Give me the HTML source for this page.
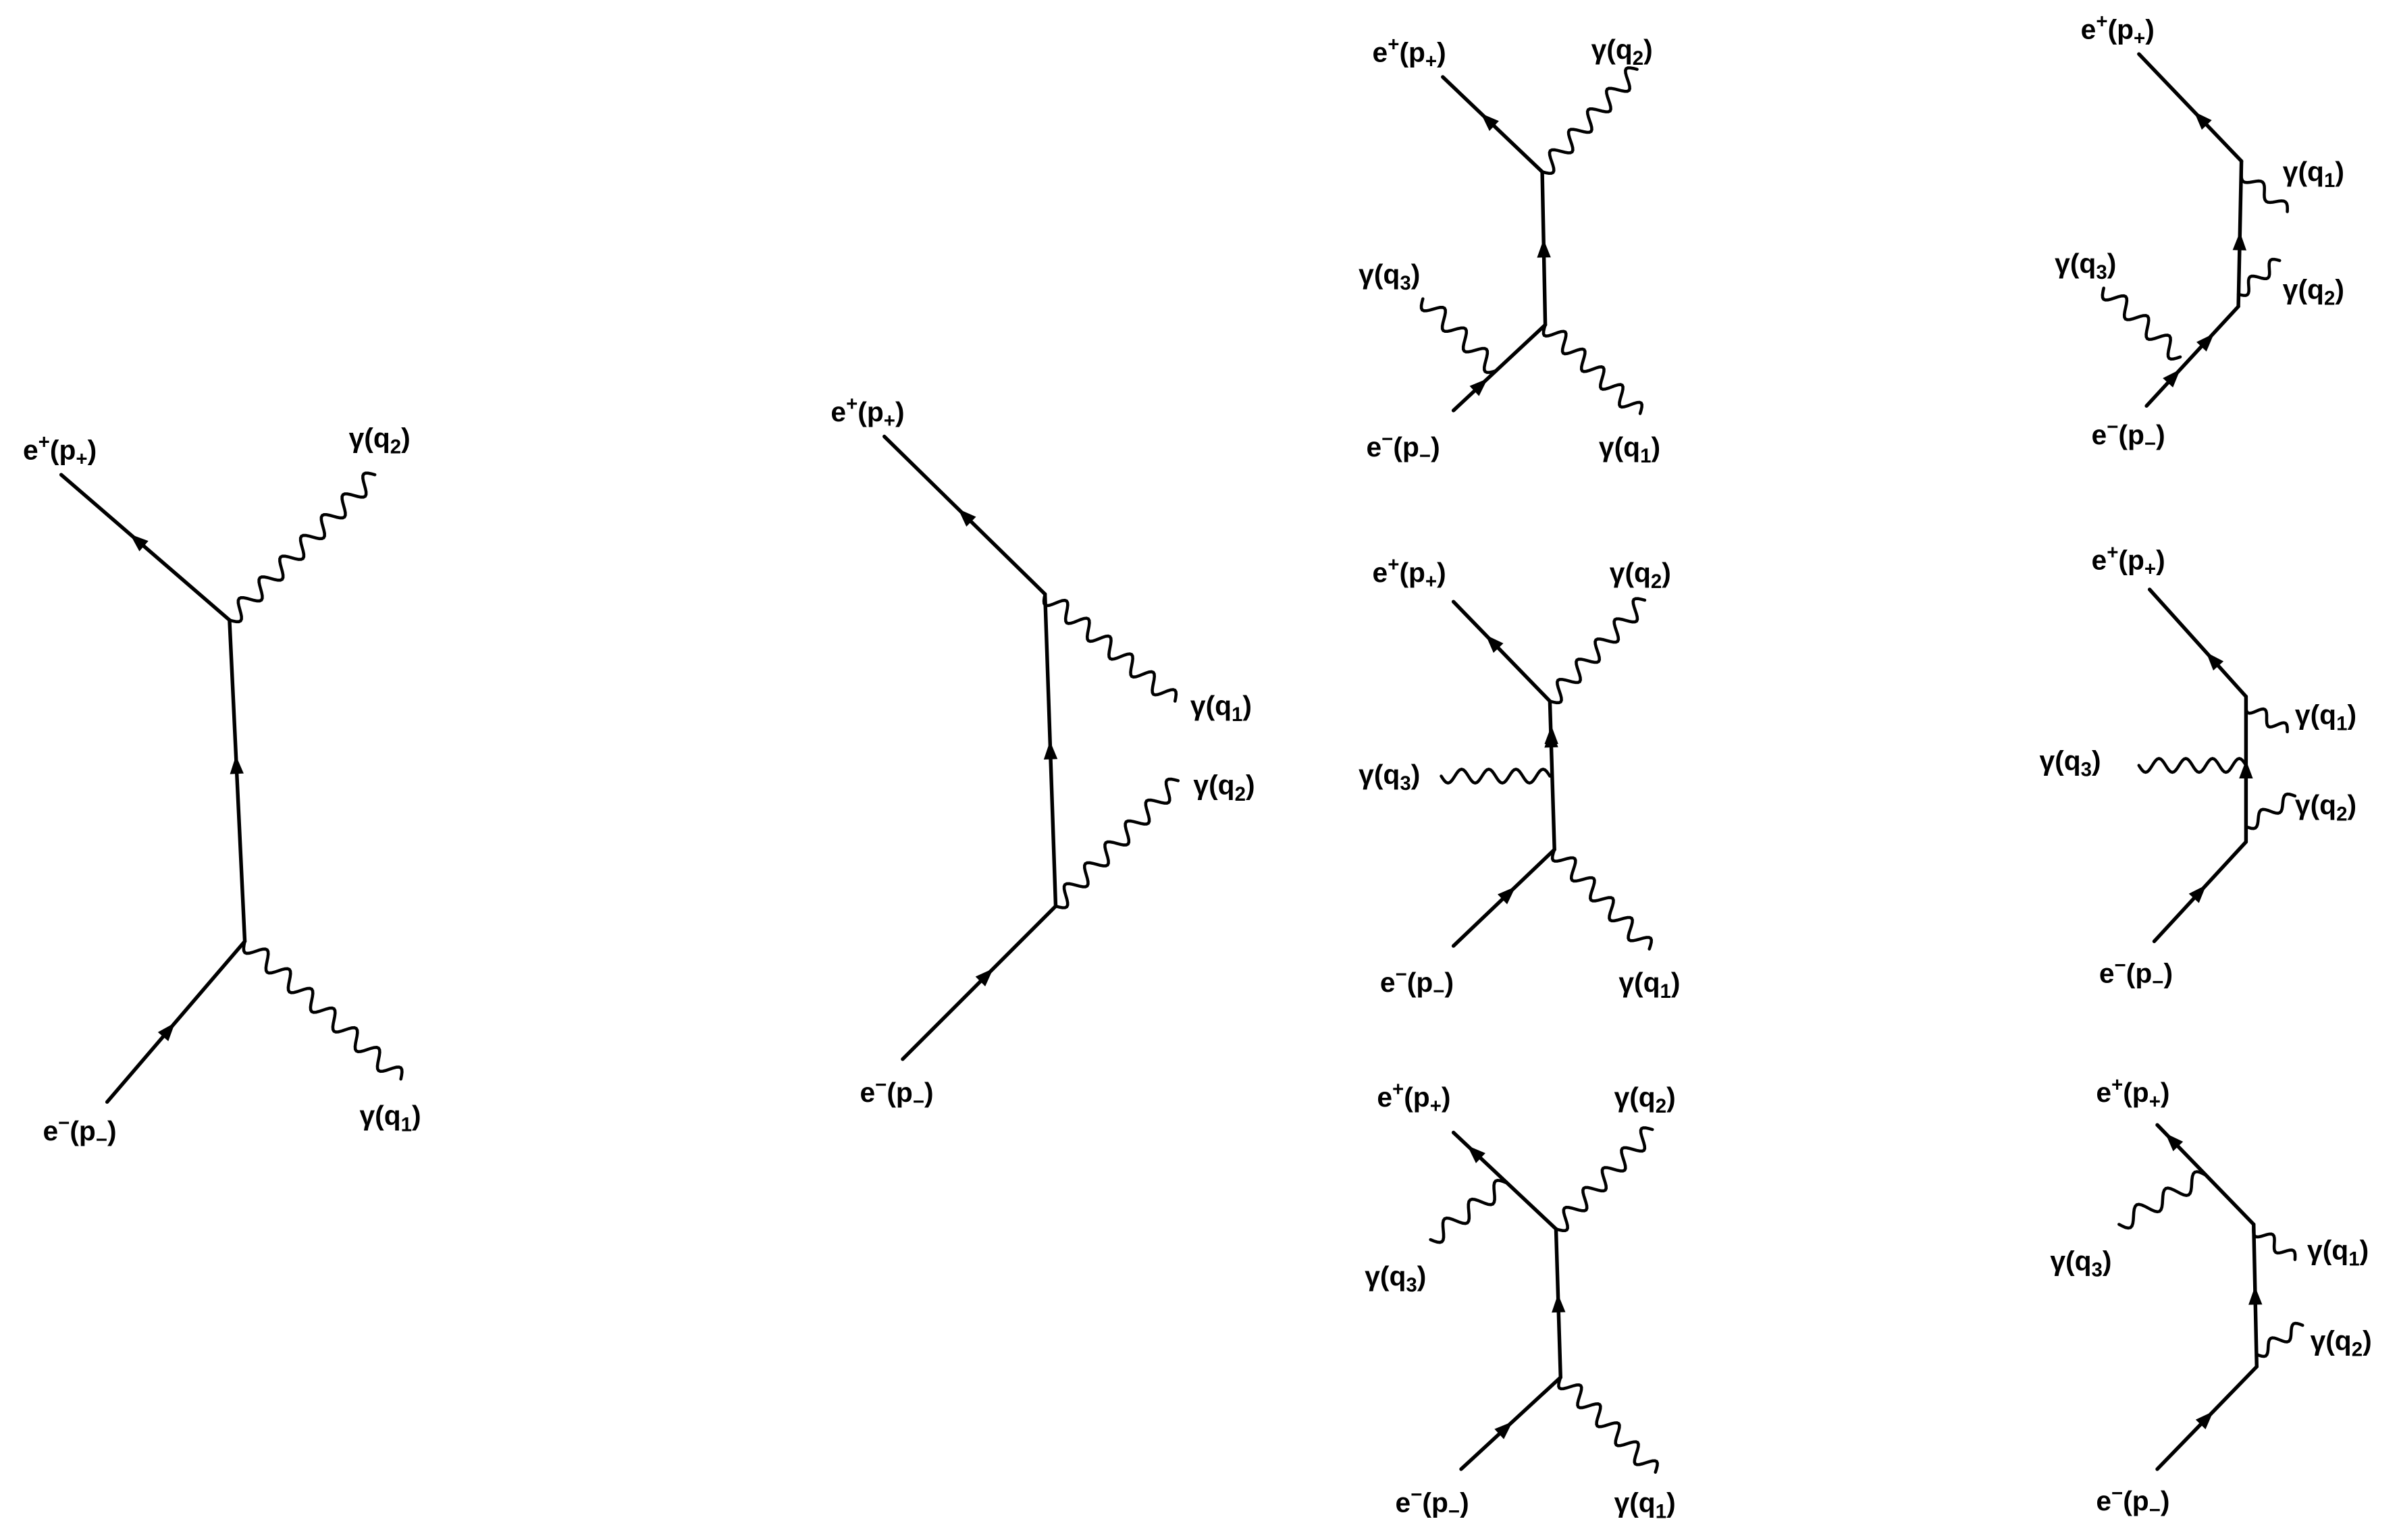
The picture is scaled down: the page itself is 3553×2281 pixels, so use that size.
<!DOCTYPE html>
<html><head><meta charset="utf-8">
<style>
html,body{margin:0;padding:0;background:#fff;}
svg{display:block;}
text{font-family:"Liberation Sans",sans-serif;font-weight:bold;font-size:18px;fill:#000;}
</style></head>
<body>
<svg id="s" width="3553" height="2281" viewBox="0 0 1568 1006" xmlns="http://www.w3.org/2000/svg">
<rect width="1568" height="1006" fill="#fff"/>
<g id="g" stroke="#000" stroke-width="2.4" fill="none" stroke-linecap="round"></g>
<g id="t"></g>
</svg>
<script>
const g=document.getElementById('g'), t=document.getElementById('t');
const NS='http://www.w3.org/2000/svg';
function el(p,tag,a){const e=document.createElementNS(NS,tag);for(const k in a)e.setAttribute(k,a[k]);p.appendChild(e);return e;}
function line(x1,y1,x2,y2){el(g,'line',{x1,y1,x2,y2});}
function arrow(x,y,dx,dy){const L=Math.hypot(dx,dy);dx/=L;dy/=L;const s=12,w=4.5;
 const px=-dy,py=dx;
 el(g,'polygon',{points:`${x+dx*s/2},${y+dy*s/2} ${x-dx*s/2+px*w},${y-dy*s/2+py*w} ${x-dx*s/2-px*w},${y-dy*s/2-py*w}`,fill:'#000',stroke:'none'});}
function fer(x1,y1,x2,y2,f){line(x1,y1,x2,y2);arrow(x1+(x2-x1)*f,y1+(y2-y1)*f,x2-x1,y2-y1);}
function wave(x1,y1,x2,y2,n,amp){amp=amp||5.5;const dx=x2-x1,dy=y2-y1,L=Math.hypot(dx,dy);
 const ux=dx/L,uy=dy/L,px=-uy,py=ux;let d=`M${x1},${y1}`;const N=n*16;
 for(let i=1;i<=N;i++){const s=i/N;const o=amp*Math.sin(s*n*2*Math.PI);d+=` L${(x1+dx*s+px*o).toFixed(2)},${(y1+dy*s+py*o).toFixed(2)}`;}
 el(g,'path',{d,'stroke-width':2});}
function lab(x,y,a,sup,sub,b){
 const e=el(t,'text',{x,y});
 e.innerHTML= sup? `${a}<tspan dy="-7" font-size="13">${sup}</tspan><tspan dy="7">(${b}</tspan><tspan dy="4" font-size="13">${sub}</tspan><tspan dy="-4">)</tspan>`
 : `${a}(${b}<tspan dy="4" font-size="13">${sub}</tspan><tspan dy="-4">)</tspan>`;}
function ep(x,y){lab(x,y,'e','+','+','p');}
function em(x,y){lab(x,y,'e','−','−','p');}
function gm(x,y,k){lab(x,y,'γ','',k,'q');}

// Diagram 1
fer(150,405,40,310,0.55);wave(150,405,245,310,7);
fer(160,615,150,405,0.55);
fer(70,720,160,615,0.45);wave(160,615,262,705,7);
ep(15,300);gm(228,292,'2');em(28,745);gm(235,735,'1');

// Diagram 2
fer(683,388,578,285,0.5);fer(690,592,683,388,0.5);fer(590,692,690,592,0.55);
wave(683,388,768,458,6);wave(690,592,770,510,6);
ep(543,275);gm(778,467,'1');gm(780,519,'2');em(562,720);

// 3a
fer(1008,112,943,50,0.55);wave(1008,112,1070,45,5);
fer(1010,212,1008,112,0.5);
fer(950,268,1010,212,0.3);wave(930,195,978,242,3.5);wave(1010,212,1072,270,5);
ep(897,40);gm(1040,38,'2');gm(888,185,'3');em(893,298);gm(1045,298,'1');

// 3b
fer(1013,458,950,393,0.6);wave(1013,458,1075,392,5);
fer(1016,555,1013,458,0.75);arrow(1014,480,0,-1);wave(942,507,1013,507,4,4.5);
fer(950,618,1016,555,0.55);wave(1016,555,1078,620,5);
ep(897,380);gm(1052,380,'2');gm(888,512,'3');em(902,648);gm(1058,648,'1');

// 3c
fer(1017,803,950,740,0.8);wave(935,810,985,773,3);wave(1017,803,1080,738,5);
fer(1020,900,1017,803,0.5);
fer(955,960,1020,900,0.45);wave(1020,900,1082,962,5);
ep(900,723);gm(1055,723,'2');gm(892,840,'3');em(912,988);gm(1055,988,'1');

// 4a
fer(1465,105,1398,35,0.4);fer(1463,200,1465,105,0.45);
wave(1465,112,1495,138,2,4);wave(1463,192,1490,170,2,4);
fer(1403,265,1463,200,0.3);arrow(1443,222,1,-1.05);wave(1375,188,1425,233,3.5);
ep(1360,25);gm(1492,118,'1');gm(1343,178,'3');gm(1492,195,'2');em(1367,290);

// 4b
fer(1468,455,1405,385,0.35);fer(1468,550,1468,455,0.5);
wave(1468,460,1495,478,2,4);wave(1398,500,1468,500,4,4.5);wave(1468,540,1500,520,2,4);
fer(1408,615,1468,550,0.5);
ep(1367,372);gm(1500,473,'1');gm(1333,503,'3');gm(1500,532,'2');em(1372,642);

// 4c
fer(1473,800,1410,735,0.85);wave(1385,800,1442,768,3);
fer(1475,893,1473,800,0.5);wave(1473,802,1500,823,2,4);wave(1475,885,1505,866,2,4);
fer(1410,960,1475,893,0.5);
ep(1370,720);gm(1340,830,'3');gm(1508,823,'1');gm(1510,882,'2');em(1370,987);
</script>
</body></html>
